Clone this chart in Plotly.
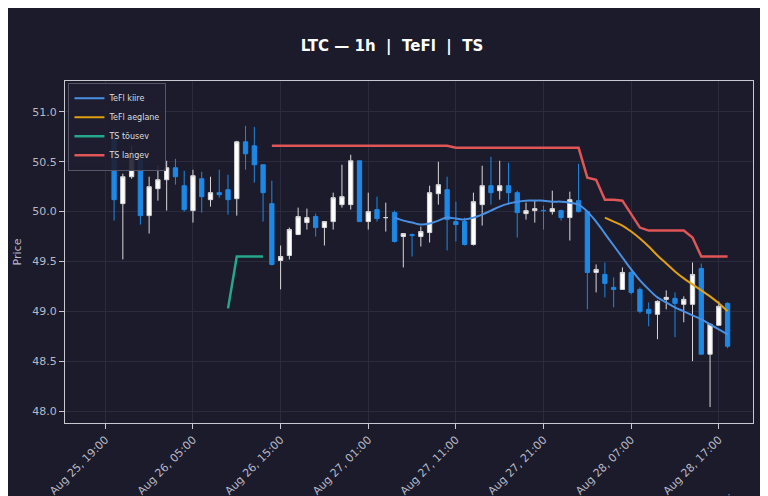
import pandas as pd
import plotly.graph_objects as go

# hourly LTC candles, Aug 25 20:00 -> Aug 28 18:00
times = pd.date_range("2024-08-25 20:00", periods=71, freq="h")

opens = [50.75, 50.08, 50.35, 50.52, 49.96, 50.23, 50.32, 50.44, 50.26, 50.01,
         50.33, 50.12, 50.19, 50.22, 50.13, 50.70, 50.66, 50.47, 50.08, 49.51,
         49.56, 49.77, 49.89, 49.95, 49.84, 49.90, 50.07, 50.07, 50.51, 49.90,
         50.02, 49.94, 49.99, 49.75, 49.77, 49.75, 49.79, 50.18, 50.22, 49.90,
         49.90, 49.67, 50.07, 50.26, 50.21, 50.26, 50.19, 49.98, 50.01, 50.01,
         50.00, 50.01, 49.94, 50.11, 50.00, 49.39, 49.37, 49.24, 49.22, 49.39,
         49.22, 49.02, 48.97, 49.12, 49.13, 49.07, 49.07, 49.43, 48.57, 48.86,
         49.08]
highs = [50.85, 50.38, 50.66, 50.58, 50.35, 50.46, 50.51, 50.53, 50.41, 50.42,
         50.40, 50.35, 50.42, 50.37, 50.71, 50.86, 50.85, 50.47, 50.31, 49.66,
         49.84, 50.04, 50.03, 49.98, 49.90, 50.19, 50.47, 50.57, 50.51, 50.19,
         50.15, 50.09, 50.01, 49.78, 49.78, 49.85, 50.26, 50.50, 50.35, 50.10,
         49.94, 50.19, 50.46, 50.55, 50.51, 50.49, 50.21, 50.09, 50.12, 50.06,
         50.21, 50.02, 50.20, 50.48, 50.00, 49.47, 49.49, 49.34, 49.44, 49.42,
         49.24, 49.09, 49.11, 49.21, 49.19, 49.15, 49.49, 49.48, 48.88, 49.10,
         49.09]
lows = [49.91, 49.52, 50.33, 49.87, 49.78, 50.11, 50.01, 50.27, 50.00, 49.89,
        49.99, 50.05, 50.14, 49.97, 49.96, 50.42, 50.29, 49.90, 49.46, 49.22,
        49.52, 49.77, 49.82, 49.75, 49.66, 49.82, 50.04, 50.02, 49.90, 49.82,
        49.90, 49.80, 49.69, 49.44, 49.55, 49.65, 49.69, 50.07, 49.61, 49.70,
        49.66, 49.66, 49.86, 50.07, 50.12, 50.07, 49.74, 49.92, 49.89, 49.82,
        49.97, 49.91, 49.71, 49.99, 49.02, 49.19, 49.14, 49.04, 49.22, 49.17,
        48.98, 48.85, 48.72, 49.02, 48.74, 48.89, 48.50, 48.57, 48.04, 48.86,
        48.63]
closes = [50.12, 50.35, 50.55, 49.96, 50.25, 50.32, 50.44, 50.35, 50.02, 50.36,
          50.15, 50.19, 50.17, 50.12, 50.70, 50.58, 50.47, 50.19, 49.47, 49.55,
          49.82, 49.95, 49.94, 49.84, 49.90, 50.14, 50.15, 50.51, 49.90, 50.00,
          49.93, 49.94, 49.70, 49.78, 49.76, 49.80, 50.19, 50.27, 49.92, 49.87,
          49.67, 50.10, 50.26, 50.19, 50.26, 50.19, 49.99, 50.01, 50.03, 50.01,
          50.03, 49.94, 50.12, 50.00, 49.39, 49.42, 49.28, 49.22, 49.39, 49.19,
          49.00, 48.98, 49.10, 49.14, 49.08, 49.12, 49.37, 48.57, 48.87, 49.05,
          48.65]

# TeFl fast / slow filters (start at candle 32 / 56)
tefl_fast = [49.94, 49.91, 49.89, 49.87, 49.88, 49.91, 49.94, 49.93, 49.92, 49.94,
             49.97, 50.01, 50.05, 50.08, 50.10, 50.11, 50.11, 50.11, 50.10, 50.10,
             50.09, 50.07, 50.00, 49.90, 49.78, 49.66, 49.54, 49.42, 49.31, 49.22,
             49.14, 49.09, 49.04, 49.00, 48.96, 48.92, 48.87, 48.82, 48.77]
tefl_slow = [49.94, 49.90, 49.86, 49.80, 49.73, 49.65, 49.56, 49.48, 49.40, 49.33,
             49.27, 49.21, 49.15, 49.08, 49.00]

# TS rising (candles 13-17) and falling (candles 18-70)
ts_up = [49.03, 49.55, 49.55, 49.55, 49.55]
ts_down = [50.66] * 21 + [50.64] * 15 + [50.34, 50.32, 50.12, 50.12, 50.11, 49.97,
                                        49.84, 49.81, 49.81, 49.81, 49.81, 49.81,
                                        49.74, 49.55, 49.55, 49.55, 49.55]

tick_times = pd.date_range("2024-08-25 19:00", periods=8, freq="10h")

fig = go.Figure()
fig.add_trace(go.Candlestick(
    x=times, open=opens, high=highs, low=lows, close=closes,
    increasing=dict(line=dict(color="#d8d8d8", width=1), fillcolor="#ffffff"),
    decreasing=dict(line=dict(color="#1e88e5", width=1), fillcolor="#1e88e5"),
    whiskerwidth=0, showlegend=False, name="LTC"))
fig.add_trace(go.Scatter(x=times[32:], y=tefl_fast, mode="lines", name="TeFl kiire",
                         line=dict(color="#4a90e2", width=2, shape="spline")))
fig.add_trace(go.Scatter(x=times[56:], y=tefl_slow, mode="lines", name="TeFl aeglane",
                         line=dict(color="#e0a010", width=2, shape="spline")))
fig.add_trace(go.Scatter(x=times[13:18], y=ts_up, mode="lines", name="TS tõusev",
                         line=dict(color="#26a68a", width=2.5)))
fig.add_trace(go.Scatter(x=times[18:], y=ts_down, mode="lines", name="TS langev",
                         line=dict(color="#e05555", width=2.5)))

bg = "#1b1b2c"
fig.update_layout(
    width=768, height=496,
    paper_bgcolor=bg, plot_bgcolor=bg,
    font=dict(family="DejaVu Sans", color="#b8b8c4", size=11),
    title=dict(text="<b>LTC — 1h  |  TeFl  |  TS</b>", x=0.5, y=0.935,
               font=dict(size=15, color="#ffffff")),
    margin=dict(l=57, r=23, t=73, b=81),
    legend=dict(x=0.005, y=0.995, xanchor="left", yanchor="top",
                bgcolor="rgba(30,30,48,0.9)", bordercolor="#555566", borderwidth=1,
                font=dict(size=8, color="#dddddd"), tracegroupgap=0, itemwidth=30),
    xaxis=dict(rangeslider=dict(visible=False), automargin=False,
               range=[times[0] - pd.Timedelta(hours=5.6), times[0] + pd.Timedelta(hours=72.9)],
               tickvals=tick_times, tickformat="%b %d, %H:%M", tickangle=-45,
               showgrid=True, gridcolor="#2a2b3d", showline=True, linecolor="#c8c8d0",
               mirror=True, ticks="outside", tickcolor="#c8c8d0"),
    yaxis=dict(range=[47.88, 51.31], dtick=0.5, tickformat=".1f", automargin=False,
               title=dict(text="Price", font=dict(size=11), standoff=8),
               showgrid=True, gridcolor="#2a2b3d", showline=True, linecolor="#c8c8d0",
               mirror=True, ticks="outside", tickcolor="#c8c8d0"),
    annotations=[dict(text="aieon.ee", xref="paper", yref="paper", x=1.03, y=-0.2,
                      xanchor="right", yanchor="top", showarrow=False,
                      font=dict(size=12, color="#8a8a96"))],
)

fig.write_html("out.html")
